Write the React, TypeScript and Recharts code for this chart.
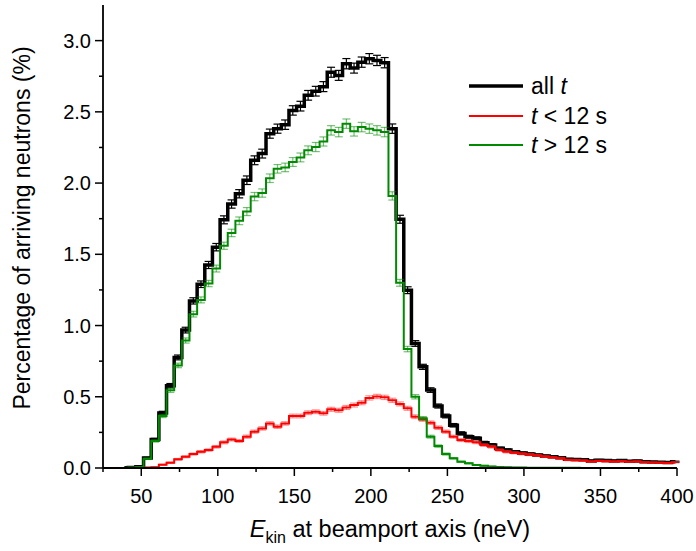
import React from 'react';
import { ComposedChart, Line, XAxis, YAxis, ErrorBar } from 'recharts';

// bin centres (neV), bins are 5 neV wide
const energyCenters = [
  39, 44, 49, 54, 59, 64, 69, 74, 79, 84,
  89, 94, 99, 104, 109, 114, 119, 124, 129, 134,
  139, 144, 149, 154, 159, 164, 169, 174, 179, 184,
  189, 194, 199, 204, 209, 214, 219, 224, 229, 234,
  239, 244, 249, 254, 259, 264, 269, 274, 279, 284,
  289, 294, 299, 304, 309, 314, 319, 324, 329, 334,
  339, 344, 349, 354, 359, 364, 369, 374, 379, 384,
  389, 394, 399,
];

const allT = [
  0.002, 0.004, 0.008, 0.07, 0.2, 0.386, 0.578, 0.776, 0.968, 1.173,
  1.29, 1.425, 1.55, 1.742, 1.853, 1.925, 2.02, 2.16, 2.207, 2.347,
  2.382, 2.41, 2.51, 2.54, 2.616, 2.645, 2.677, 2.778, 2.756, 2.838,
  2.807, 2.849, 2.873, 2.861, 2.845, 2.382, 1.746, 1.248, 0.874, 0.71,
  0.547, 0.435, 0.365, 0.3, 0.243, 0.22, 0.208, 0.178, 0.161, 0.138,
  0.126, 0.114, 0.105, 0.098, 0.091, 0.084, 0.079, 0.072, 0.062, 0.06,
  0.058, 0.05, 0.055, 0.052, 0.05, 0.052, 0.048, 0.05, 0.044, 0.042,
  0.04, 0.038, 0.044,
];
const allTErr = [
  0.001, 0.001, 0.002, 0.005, 0.008, 0.012, 0.015, 0.017, 0.02, 0.022,
  0.023, 0.025, 0.026, 0.028, 0.029, 0.029, 0.03, 0.031, 0.031, 0.032,
  0.032, 0.033, 0.033, 0.034, 0.034, 0.034, 0.035, 0.035, 0.035, 0.036,
  0.035, 0.036, 0.036, 0.036, 0.036, 0.033, 0.028, 0.024, 0.02, 0.018,
  0.016, 0.014, 0.013, 0.012, 0.011, 0.01, 0.01, 0.009, 0.009, 0.008,
  0.008, 0.007, 0.007, 0.007, 0.006, 0.006, 0.006, 0.006, 0.005, 0.005,
  0.005, 0.005, 0.005, 0.005, 0.005, 0.005, 0.004, 0.004, 0.004, 0.004,
  0.004, 0.004, 0.004,
];

const tBelow12 = [
  0, 0, 0.001, 0.003, 0.006, 0.023, 0.037, 0.061, 0.079, 0.098,
  0.114, 0.126, 0.149, 0.18, 0.2, 0.19, 0.22, 0.255, 0.278, 0.313,
  0.29, 0.313, 0.365, 0.365, 0.388, 0.395, 0.384, 0.412, 0.405, 0.425,
  0.442, 0.458, 0.492, 0.502, 0.496, 0.475, 0.45, 0.419, 0.36, 0.341,
  0.318, 0.283, 0.255, 0.22, 0.196, 0.189, 0.18, 0.161, 0.149, 0.126,
  0.114, 0.107, 0.1, 0.094, 0.088, 0.08, 0.074, 0.068, 0.057, 0.055,
  0.052, 0.045, 0.05, 0.048, 0.045, 0.047, 0.044, 0.046, 0.04, 0.038,
  0.037, 0.035, 0.04,
];
const tBelow12Err = [
  0, 0, 0.001, 0.001, 0.002, 0.004, 0.005, 0.006, 0.007, 0.007,
  0.008, 0.008, 0.009, 0.01, 0.01, 0.01, 0.011, 0.011, 0.012, 0.012,
  0.012, 0.012, 0.013, 0.013, 0.013, 0.013, 0.013, 0.014, 0.014, 0.014,
  0.014, 0.014, 0.015, 0.015, 0.015, 0.015, 0.014, 0.014, 0.013, 0.013,
  0.012, 0.012, 0.011, 0.01, 0.01, 0.01, 0.009, 0.009, 0.009, 0.008,
  0.008, 0.007, 0.007, 0.007, 0.006, 0.006, 0.006, 0.006, 0.005, 0.005,
  0.005, 0.005, 0.005, 0.005, 0.005, 0.005, 0.004, 0.004, 0.004, 0.004,
  0.004, 0.004, 0.004,
];

const tAbove12 = [
  0.002, 0.004, 0.007, 0.065, 0.19, 0.365, 0.545, 0.72, 0.895, 1.08,
  1.18, 1.295, 1.4, 1.56, 1.65, 1.735, 1.8, 1.905, 1.93, 2.034,
  2.1, 2.11, 2.148, 2.18, 2.23, 2.253, 2.292, 2.37, 2.358, 2.417,
  2.363, 2.393, 2.382, 2.37, 2.358, 1.91, 1.3, 0.835, 0.5, 0.349,
  0.22, 0.154, 0.098, 0.068, 0.044, 0.033, 0.021, 0.015, 0.01, 0.007,
  0.005, 0.004, 0.003, 0.002, 0.002, 0.001, 0.001, 0.001, 0.001, 0.001,
  0, 0, 0, 0, 0, 0, 0, 0, 0, 0,
  0, 0, 0,
];
const tAbove12Err = [
  0.001, 0.001, 0.002, 0.005, 0.008, 0.011, 0.014, 0.016, 0.018, 0.02,
  0.021, 0.022, 0.024, 0.025, 0.026, 0.027, 0.028, 0.029, 0.029, 0.03,
  0.03, 0.03, 0.031, 0.031, 0.031, 0.032, 0.032, 0.033, 0.033, 0.033,
  0.033, 0.033, 0.033, 0.033, 0.033, 0.029, 0.024, 0.019, 0.015, 0.012,
  0.01, 0.008, 0.007, 0.005, 0.004, 0.004, 0.003, 0.003, 0.002, 0.002,
  0.002, 0.001, 0.001, 0.001, 0.001, 0.001, 0.001, 0.001, 0.001, 0.001,
  0, 0, 0, 0, 0, 0, 0, 0, 0, 0,
  0, 0, 0,
];

const xTicks = [25, 50, 75, 100, 125, 150, 175, 200, 225, 250, 275, 300, 325, 350, 375, 400];
const xMajor = [50, 100, 150, 200, 250, 300, 350, 400];
const yTicks = [0, 0.25, 0.5, 0.75, 1, 1.25, 1.5, 1.75, 2, 2.25, 2.5, 2.75, 3];
const yMajor = [0, 0.5, 1, 1.5, 2, 2.5, 3];

const data = energyCenters.map((x, i) => ({
  x,
  all: allT[i],
  allErr: allTErr[i],
  lt: tBelow12[i],
  ltErr: tBelow12Err[i],
  gt: tAbove12[i],
  gtErr: tAbove12Err[i],
}));

const FONT = '"Liberation Sans", Arial, sans-serif';
const MAJOR = 8;
const MINOR = 4;

const BottomTick = (props: any) => {
  const { x, y, payload } = props;
  const major = xMajor.includes(payload.value);
  return (
    <g>
      <line x1={x} y1={y} x2={x} y2={y + (major ? MAJOR : MINOR)} stroke="#000" strokeWidth={1.5} />
      {major && (
        <text x={x} y={y + 35} textAnchor="middle" fontFamily={FONT} fontSize={20} fill="#000">
          {payload.value}
        </text>
      )}
    </g>
  );
};

const TopTick = (props: any) => {
  const { x, y, payload } = props;
  const major = xMajor.includes(payload.value);
  return <line x1={x} y1={y} x2={x} y2={y + (major ? MAJOR : MINOR)} stroke="#000" strokeWidth={1.5} />;
};

const LeftTick = (props: any) => {
  const { x, y, payload } = props;
  const major = yMajor.includes(payload.value);
  return (
    <g>
      <line x1={x - (major ? MAJOR : MINOR)} y1={y} x2={x} y2={y} stroke="#000" strokeWidth={1.5} />
      {major && (
        <text x={x - 12} y={y + 7} textAnchor="end" fontFamily={FONT} fontSize={20} fill="#000">
          {payload.value.toFixed(1)}
        </text>
      )}
    </g>
  );
};

const RightTick = (props: any) => {
  const { x, y, payload } = props;
  const major = yMajor.includes(payload.value);
  return <line x1={x - (major ? MAJOR : MINOR)} y1={y} x2={x} y2={y} stroke="#000" strokeWidth={1.5} />;
};

export default function App() {
  return (
    <div style={{ position: 'absolute', left: 0, top: 0, width: 696, height: 551, background: '#fff' }}>
      <ComposedChart
        width={696}
        height={551}
        data={data}
        margin={{ top: 5, right: 19, bottom: 0, left: 0 }}
      >
        <XAxis
          xAxisId="b"
          dataKey="x"
          type="number"
          domain={[25, 400]}
          ticks={xTicks}
          interval={0}
          allowDataOverflow
          height={83}
          tickSize={0}
          tickMargin={0}
          tickLine={false}
          axisLine={{ stroke: '#000', strokeWidth: 1.8 }}
          tick={BottomTick}
        />
        <XAxis
          xAxisId="t"
          orientation="top"
          dataKey="x"
          type="number"
          domain={[25, 400]}
          ticks={xTicks}
          interval={0}
          allowDataOverflow
          height={0}
          tickSize={0}
          tickMargin={0}
          tickLine={false}
          axisLine={{ stroke: '#000', strokeWidth: 1.8 }}
          tick={TopTick}
        />
        <YAxis
          yAxisId="l"
          type="number"
          domain={[0, 3.25]}
          ticks={yTicks}
          interval={0}
          allowDataOverflow
          width={103}
          tickSize={0}
          tickMargin={0}
          tickLine={false}
          axisLine={{ stroke: '#000', strokeWidth: 1.8 }}
          tick={LeftTick}
        />
        <YAxis
          yAxisId="r"
          orientation="right"
          type="number"
          domain={[0, 3.25]}
          ticks={yTicks}
          interval={0}
          allowDataOverflow
          width={0}
          tickSize={0}
          tickMargin={0}
          tickLine={false}
          axisLine={{ stroke: '#000', strokeWidth: 1.8 }}
          tick={RightTick}
        />
        <Line
          xAxisId="b"
          yAxisId="l"
          type="step"
          dataKey="all"
          stroke="#000"
          strokeWidth={3.5}
          dot={false}
          isAnimationActive={false}
        >
          <ErrorBar dataKey="allErr" direction="y" width={4} stroke="#000" strokeWidth={1.2} />
        </Line>
        <Line
          xAxisId="b"
          yAxisId="l"
          type="step"
          dataKey="lt"
          stroke="#ff0000"
          strokeWidth={2}
          dot={false}
          isAnimationActive={false}
        >
          <ErrorBar dataKey="ltErr" direction="y" width={4} stroke="rgba(255,60,60,0.55)" strokeWidth={1.2} />
        </Line>
        <Line
          xAxisId="b"
          yAxisId="l"
          type="step"
          dataKey="gt"
          stroke="#008a00"
          strokeWidth={2}
          dot={false}
          isAnimationActive={false}
        >
          <ErrorBar dataKey="gtErr" direction="y" width={4} stroke="rgba(0,140,0,0.55)" strokeWidth={1.2} />
        </Line>
      </ComposedChart>
      <svg
        width={696}
        height={551}
        style={{ position: 'absolute', left: 0, top: 0, pointerEvents: 'none' }}
        fontFamily={FONT}
      >
        <text
          x={0}
          y={0}
          transform="translate(30,228) rotate(-90)"
          textAnchor="middle"
          fontSize={23}
          fill="#000"
        >
          Percentage of arriving neutrons (%)
        </text>
        <text x={390} y={537} textAnchor="middle" fontSize={23.5} fill="#000">
          <tspan fontStyle="italic">E</tspan>
          <tspan fontSize={16} dy={6}>kin</tspan>
          <tspan dy={-6}> at beamport axis (neV)</tspan>
        </text>
        <line x1={469} y1={86} x2={523} y2={86} stroke="#000" strokeWidth={3.5} />
        <line x1={469} y1={116} x2={523} y2={116} stroke="#ff0000" strokeWidth={2} />
        <line x1={469} y1={145} x2={523} y2={145} stroke="#008a00" strokeWidth={2} />
        <text x={531} y={94} fontSize={23} fill="#000">
          all <tspan fontStyle="italic">t</tspan>
        </text>
        <text x={531} y={124} fontSize={23} fill="#000">
          <tspan fontStyle="italic">t</tspan> &lt; 12 s
        </text>
        <text x={531} y={153} fontSize={23} fill="#000">
          <tspan fontStyle="italic">t</tspan> &gt; 12 s
        </text>
      </svg>
    </div>
  );
}
